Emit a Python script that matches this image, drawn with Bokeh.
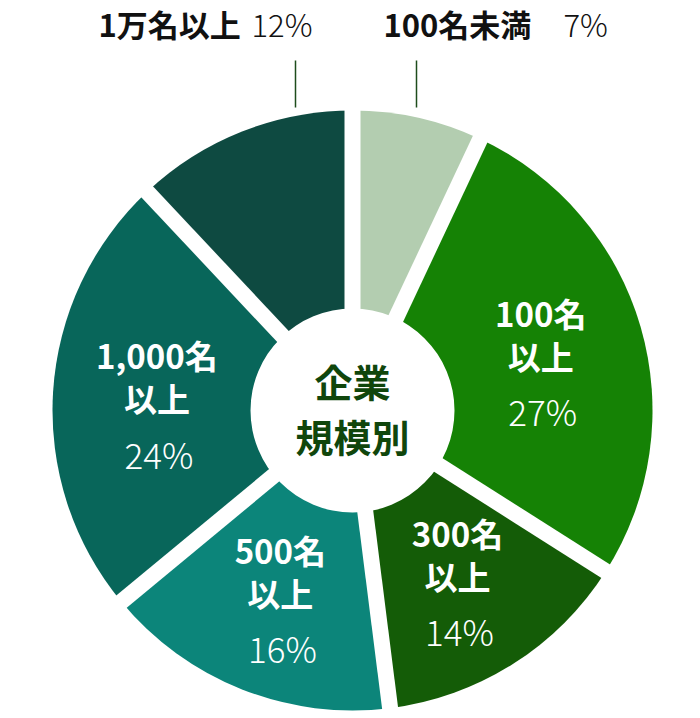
import math
from bokeh.plotting import figure
from bokeh.models import ColumnDataSource
from bokeh.core.properties import value
from bokeh.embed import file_html
from bokeh.resources import INLINE

# ---- data ----
categories = ["100名未満", "100名以上", "300名以上", "500名以上", "1,000名以上", "1万名以上"]
name_line1 = ["100名", "100名", "300名", "500名", "1,000名", "1万名"]
name_line2 = ["未満", "以上", "以上", "以上", "以上", "以上"]
shares = [7, 27, 14, 16, 24, 12]
colors = ["#b3cdb0", "#158205", "#145c07", "#0c857a", "#08665a", "#0e4a41"]
inside = [False, True, True, True, True, False]
center_lines = ["企業", "規模別"]

# ---- layout ----
W, H = 700, 718
def px(X):
    return X
def py(Y):
    return H - Y

cx, cy = px(352), py(410)
R_OUT = 300
R_HOLE = 102
GAP = 16
JP = value("Noto Sans CJK JP")
JP_LIGHT = value("Noto Sans CJK JP Light")

p = figure(width=W, height=H, x_range=(0, W), y_range=(0, H),
           output_backend="svg", toolbar_location=None, min_border=0)
p.axis.visible = False
p.grid.visible = False
p.outline_line_color = None
p.background_fill_color = "white"

total = float(sum(shares))
starts, ends, mids = [], [], []
cum = 0.0
for s in shares:
    a0 = math.pi / 2 - 2 * math.pi * cum / total
    cum += s
    a1 = math.pi / 2 - 2 * math.pi * cum / total
    starts.append(a0)
    ends.append(a1)
    mids.append((a0 + a1) / 2)

src = ColumnDataSource(dict(x=[cx] * len(shares), y=[cy] * len(shares),
                            start=starts, end=ends, color=colors))
p.wedge(x="x", y="y", radius=R_OUT, start_angle="start", end_angle="end",
        direction="clock", fill_color="color", line_color=None, source=src)

# white separators
p.ray(x=[cx] * len(starts), y=[cy] * len(starts), length=R_OUT + 20,
      angle=starts, line_color="white", line_width=GAP)

# center hole
p.scatter(x=[cx], y=[cy], size=2 * R_HOLE, marker="circle",
          fill_color="white", line_color=None)

# center text
p.text(x=[cx, cx], y=[cy + 30, cy - 25], text=center_lines,
       text_font=JP, text_font_style="bold",
       text_font_size="38px", text_color="#10460c",
       text_align="center", text_baseline="middle")

# inside labels
R_LAB = 196
lx, ly, t1, t2, t3 = [], [], [], [], []
for i, s in enumerate(shares):
    if not inside[i]:
        continue
    lx.append(cx + R_LAB * math.cos(mids[i]))
    ly.append(cy + R_LAB * math.sin(mids[i]))
    t1.append(name_line1[i])
    t2.append(name_line2[i])
    t3.append(f"{s}%")

p.text(x=lx, y=[v + 43 for v in ly], text=t1,
       text_font=JP, text_font_style="bold",
       text_font_size="33px", text_color="white",
       text_align="center", text_baseline="middle")
p.text(x=lx, y=ly, text=t2,
       text_font=JP, text_font_style="bold",
       text_font_size="33px", text_color="white",
       text_align="center", text_baseline="middle")
p.text(x=[v + 2 for v in lx], y=[v - 55 for v in ly], text=t3,
       text_font=JP_LIGHT, text_font_style="normal",
       text_font_size="35px", text_color="white",
       text_align="center", text_baseline="middle")

# outside labels (top) with leader lines
out_name_x = {0: 383, 5: 98}
out_pct_x = {0: 563, 5: 251}
lead_x = {0: 416, 5: 295}
for i in [i for i in range(len(shares)) if not inside[i]]:
    p.segment(x0=[px(lead_x[i])], y0=[py(107)], x1=[px(lead_x[i])], y1=[py(60)],
              line_color="#1e4d1c", line_width=1.5)
    p.text(x=[px(out_name_x[i])], y=[py(23)], text=[name_line1[i] + name_line2[i]],
           text_font=JP, text_font_style="bold",
           text_font_size="31px", text_color="#111111",
           text_align="left", text_baseline="middle")
    p.text(x=[px(out_pct_x[i])], y=[py(23)], text=[f"{shares[i]}%"],
           text_font=JP_LIGHT, text_font_size="31px",
           text_color="#111111", text_align="left", text_baseline="middle")

open("out.html", "w").write(file_html(p, INLINE))
